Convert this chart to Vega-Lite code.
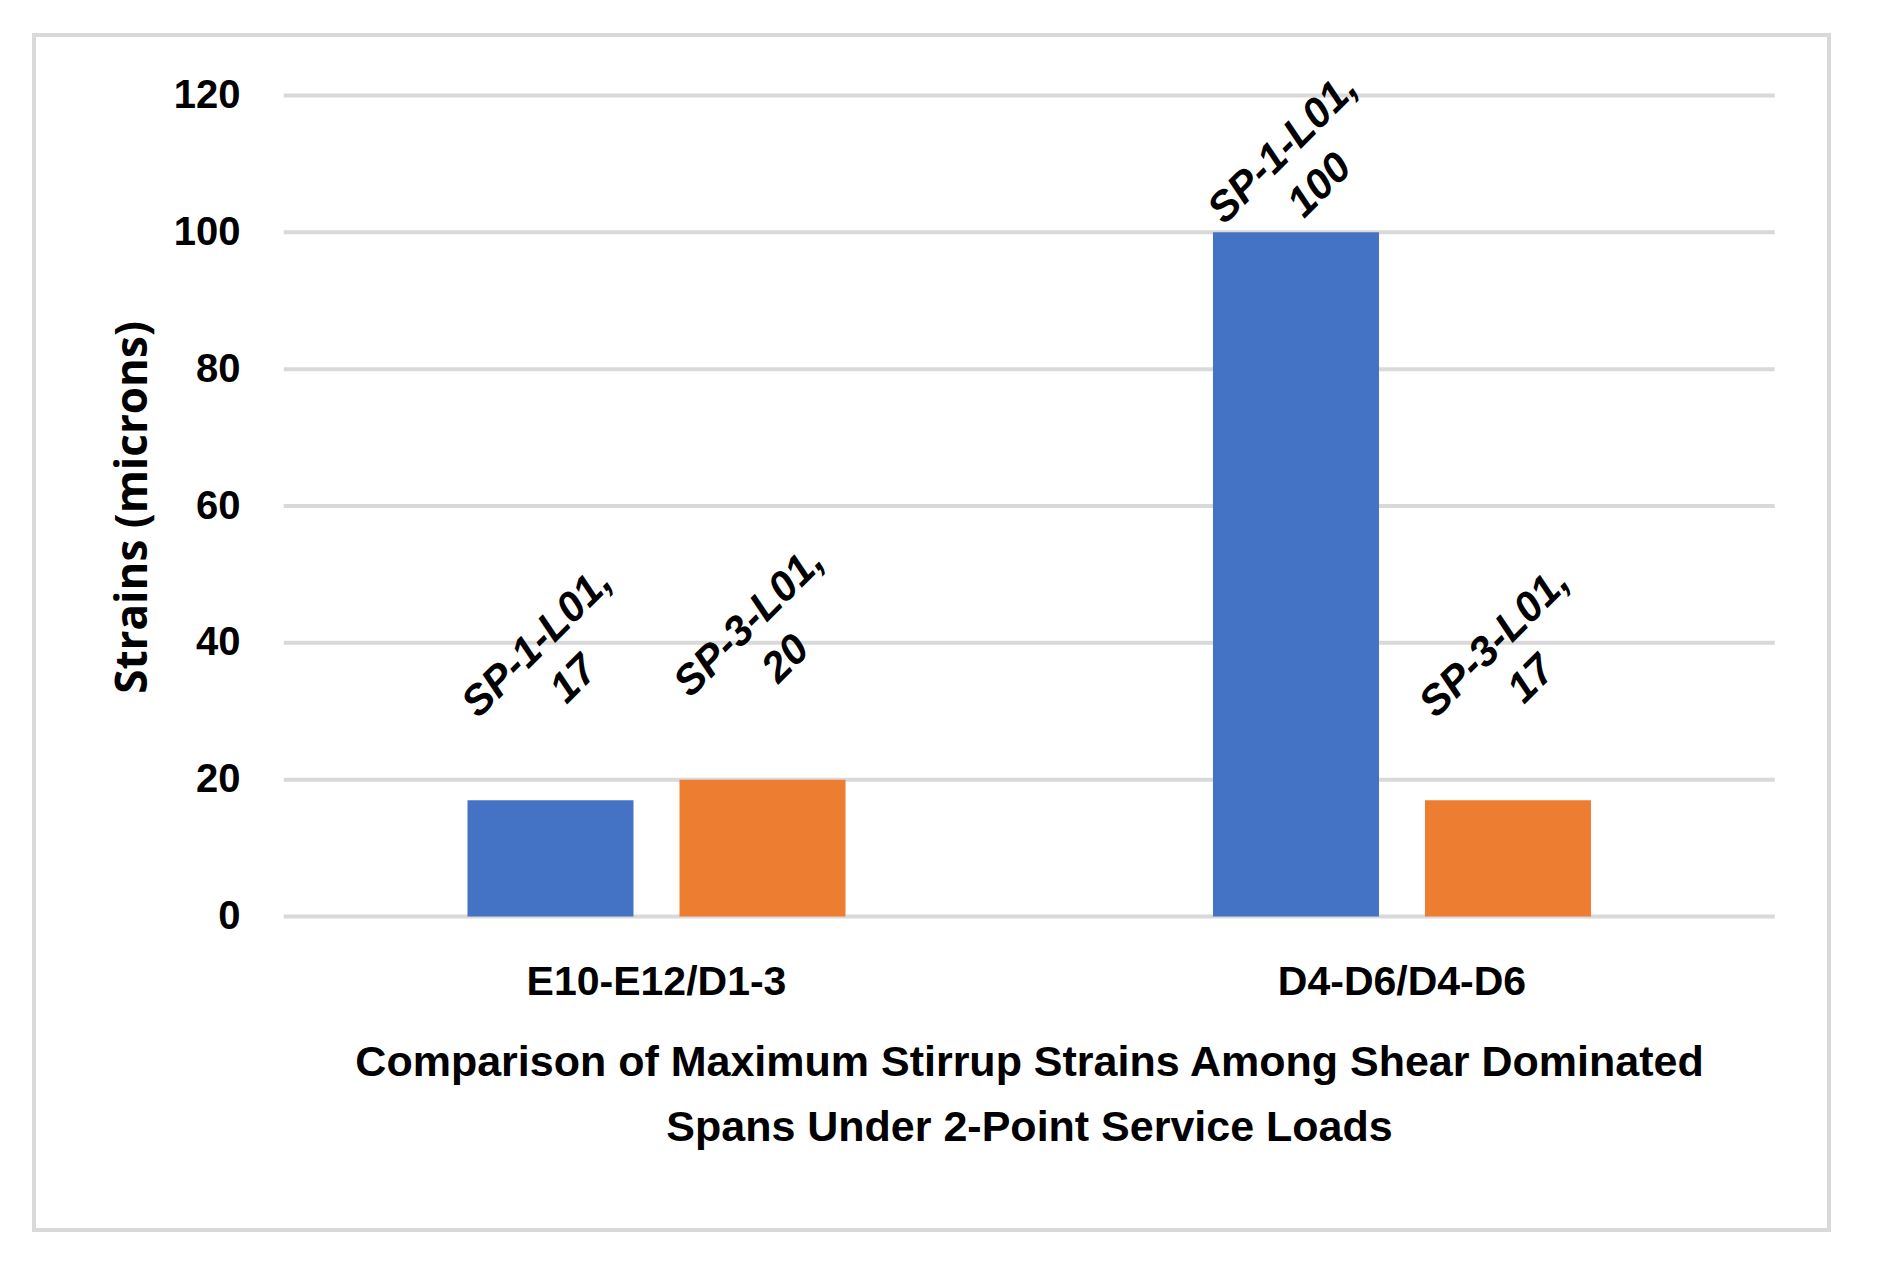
{
  "$schema": "https://vega.github.io/schema/vega-lite/v6.json",
  "width": 1795,
  "height": 1195,
  "autosize": {"type": "none"},
  "padding": {"left": 34, "top": 35, "right": 63, "bottom": 49},
  "background": "white",
  "config": {
    "view": {"stroke": "#d9d9d9", "strokeWidth": 4},
    "font": "Liberation Sans"
  },
  "datasets": {
    "bars": [
      {"span": "E10-E12/D1-3", "series": "SP-1-L01", "value": 17, "label": "SP-1-L01,\n17"},
      {"span": "E10-E12/D1-3", "series": "SP-3-L01", "value": 20, "label": "SP-3-L01,\n20"},
      {"span": "D4-D6/D4-D6", "series": "SP-1-L01", "value": 100, "label": "SP-1-L01,\n100"},
      {"span": "D4-D6/D4-D6", "series": "SP-3-L01", "value": 17, "label": "SP-3-L01,\n17"}
    ],
    "grid": [{"g": 0}, {"g": 20}, {"g": 40}, {"g": 60}, {"g": 80}, {"g": 100}, {"g": 120}]
  },
  "layer": [
    {
      "data": {"name": "grid"},
      "mark": {"type": "rule", "color": "#d9d9d9", "strokeWidth": 4},
      "encoding": {
        "y": {"field": "g", "type": "quantitative", "scale": {"domain": [-45.822, 128.843], "nice": false, "zero": false}},
        "x": {"datum": "E10-E12/D1-3", "type": "nominal", "bandPosition": 0,
              "scale": {"type": "band", "domain": ["E10-E12/D1-3", "D4-D6/D4-D6"], "paddingInner": 0, "paddingOuter": 0.2039, "align": 0.8215}},
        "x2": {"datum": "D4-D6/D4-D6", "bandPosition": 1}
      }
    },
    {
      "data": {"name": "bars"},
      "mark": {"type": "bar"},
      "encoding": {
        "x": {"field": "span", "type": "nominal",
              "scale": {"type": "band", "domain": ["E10-E12/D1-3", "D4-D6/D4-D6"], "paddingInner": 0, "paddingOuter": 0.2039, "align": 0.8215},
              "axis": {
                "title": ["Comparison of Maximum Stirrup Strains Among Shear Dominated", "Spans Under 2-Point Service Loads"],
                "orient": "bottom", "offset": -248, "domain": false, "ticks": false, "tickSize": 0, "grid": false,
                "labelPadding": 0, "labelAlign": "center", "labelBaseline": "middle", "labelAngle": 0, "labelLimit": 0,
                "labelFont": "Liberation Sans", "labelFontSize": 41, "labelFontWeight": "bold", "labelColor": "black",
                "titleFont": "Liberation Sans", "titleFontSize": 43, "titleFontWeight": "bold", "titleColor": "black",
                "titleX": 995, "titleY": 80, "titleAlign": "center", "titleBaseline": "middle", "titleLineHeight": 65.5, "titleLimit": 0
              }},
        "xOffset": {"field": "series", "type": "nominal", "scale": {"type": "band", "paddingInner": 0.217, "paddingOuter": 0.8667}},
        "y": {"field": "value", "type": "quantitative",
              "scale": {"domain": [-45.822, 128.843], "nice": false, "zero": false},
              "axis": {
                "title": "Strains (microns)", "values": [0, 20, 40, 60, 80, 100, 120],
                "offset": -206, "domain": false, "ticks": false, "tickSize": 0, "labelPadding": 0, "grid": false,
                "labelFont": "Liberation Sans", "labelFontSize": 40, "labelFontWeight": "bold", "labelColor": "black",
                "labelAlign": "right", "labelBaseline": "middle",
                "titleFont": "Open Sans", "titleFontSize": 44, "titleFontWeight": "bold", "titleColor": "black",
                "titleAngle": 270, "titleX": -107, "titleY": 472, "titleAlign": "center", "titleBaseline": "middle", "titleLimit": 0
              }},
        "y2": {"datum": 0},
        "color": {"field": "series", "type": "nominal",
                  "scale": {"domain": ["SP-1-L01", "SP-3-L01"], "range": ["#4472C4", "#ED7D31"]}, "legend": null}
      }
    },
    {
      "data": {"name": "bars"},
      "transform": [{"filter": "datum.value < 50"}],
      "mark": {"type": "text", "angle": 315, "dx": 102, "dy": -121, "align": "center", "baseline": "middle",
               "fontSize": 42, "fontWeight": "bold", "fontStyle": "italic", "lineBreak": "\n", "lineHeight": 52,
               "font": "Liberation Sans", "color": "black"},
      "encoding": {
        "x": {"field": "span", "type": "nominal"},
        "xOffset": {"field": "series", "type": "nominal"},
        "y": {"field": "value", "type": "quantitative"},
        "text": {"field": "label", "type": "nominal"}
      }
    },
    {
      "data": {"name": "bars"},
      "transform": [{"filter": "datum.value >= 50"}],
      "mark": {"type": "text", "angle": 315, "dx": 50, "dy": -68.5, "align": "center", "baseline": "middle",
               "fontSize": 42, "fontWeight": "bold", "fontStyle": "italic", "lineBreak": "\n", "lineHeight": 52,
               "font": "Liberation Sans", "color": "black"},
      "encoding": {
        "x": {"field": "span", "type": "nominal"},
        "xOffset": {"field": "series", "type": "nominal"},
        "y": {"field": "value", "type": "quantitative"},
        "text": {"field": "label", "type": "nominal"}
      }
    }
  ]
}
